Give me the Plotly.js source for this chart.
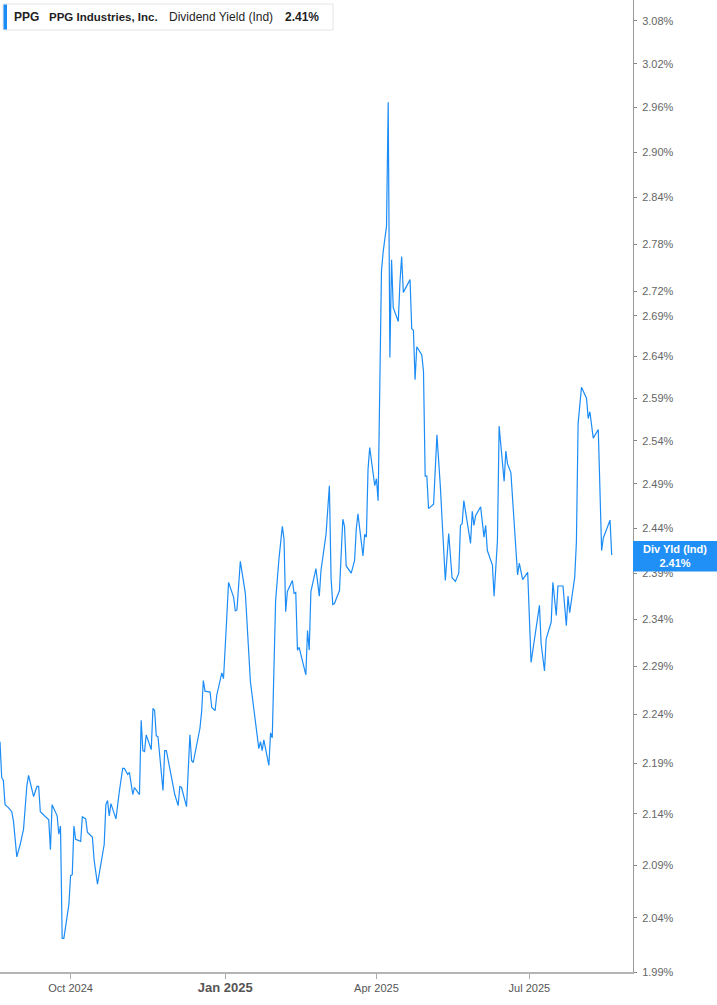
<!DOCTYPE html>
<html>
<head>
<meta charset="utf-8">
<script src="https://cdn.plot.ly/plotly-3.0.1.min.js"></script>
<style>
html,body{margin:0;padding:0;background:#fff;}
#chart{width:717px;height:1005px;}
</style>
</head>
<body>
<div id="chart"></div>
<script>
// ---- data ----
const dates = [
'2024-08-20','2024-08-21','2024-08-22','2024-08-23','2024-08-25','2024-08-27','2024-08-28','2024-08-30',
'2024-09-01','2024-09-03','2024-09-05','2024-09-06','2024-09-09','2024-09-11','2024-09-12','2024-09-13',
'2024-09-18','2024-09-19','2024-09-20','2024-09-23','2024-09-24','2024-09-25','2024-09-26','2024-09-27','2024-09-30',
'2024-10-01','2024-10-02','2024-10-03','2024-10-04','2024-10-07','2024-10-08','2024-10-10','2024-10-11','2024-10-14',
'2024-10-15','2024-10-17','2024-10-21','2024-10-22','2024-10-23','2024-10-24','2024-10-25','2024-10-28','2024-10-30',
'2024-11-01','2024-11-02','2024-11-04','2024-11-05','2024-11-07','2024-11-08','2024-11-11','2024-11-12','2024-11-13',
'2024-11-14','2024-11-15','2024-11-18','2024-11-19','2024-11-20','2024-11-21','2024-11-22','2024-11-25','2024-11-26','2024-11-27',
'2024-12-02','2024-12-04','2024-12-05','2024-12-06','2024-12-09','2024-12-11','2024-12-12','2024-12-13','2024-12-17',
'2024-12-18','2024-12-19','2024-12-20','2024-12-23','2024-12-24','2024-12-26','2024-12-27','2024-12-30','2024-12-31',
'2025-01-02','2025-01-03','2025-01-06','2025-01-07','2025-01-08','2025-01-10','2025-01-13','2025-01-16','2025-01-21',
'2025-01-22','2025-01-23','2025-01-24','2025-01-27','2025-01-28','2025-01-29','2025-01-31',
'2025-02-02','2025-02-04','2025-02-05','2025-02-06','2025-02-07','2025-02-10','2025-02-11','2025-02-12','2025-02-13',
'2025-02-14','2025-02-18','2025-02-19','2025-02-20','2025-02-21','2025-02-24','2025-02-26','2025-02-27',
'2025-03-02','2025-03-04','2025-03-05','2025-03-06','2025-03-07','2025-03-10','2025-03-11','2025-03-12','2025-03-13',
'2025-03-14','2025-03-17','2025-03-19','2025-03-20','2025-03-21','2025-03-24','2025-03-25','2025-03-26','2025-03-27',
'2025-03-28','2025-03-30','2025-03-31','2025-04-01','2025-04-02','2025-04-04','2025-04-05','2025-04-07','2025-04-08',
'2025-04-09','2025-04-10','2025-04-11','2025-04-14','2025-04-15','2025-04-16','2025-04-17','2025-04-21','2025-04-22',
'2025-04-23','2025-04-24','2025-04-25','2025-04-28','2025-04-29','2025-04-30',
'2025-05-01','2025-05-02','2025-05-05','2025-05-07','2025-05-09','2025-05-12','2025-05-14','2025-05-16','2025-05-18',
'2025-05-20','2025-05-21','2025-05-22','2025-05-23','2025-05-27','2025-05-28','2025-05-29','2025-05-30',
'2025-06-02','2025-06-04','2025-06-05','2025-06-06','2025-06-09','2025-06-10','2025-06-12','2025-06-13','2025-06-16',
'2025-06-17','2025-06-18','2025-06-20','2025-06-24','2025-06-25','2025-06-27','2025-06-30',
'2025-07-02','2025-07-07','2025-07-08','2025-07-10','2025-07-11','2025-07-14','2025-07-15','2025-07-17','2025-07-18',
'2025-07-21','2025-07-23','2025-07-24','2025-07-25','2025-07-28','2025-07-29','2025-07-30',
'2025-08-01','2025-08-04','2025-08-05','2025-08-06','2025-08-08','2025-08-11','2025-08-13','2025-08-14','2025-08-18','2025-08-19'
];
const dividendYield = [
2.212,2.176,2.173,2.149,2.146,2.142,2.133,2.098,
2.110,2.125,2.168,2.178,2.157,2.167,2.167,2.142,
2.134,2.105,2.149,2.138,2.120,2.128,2.021,2.021,2.053,
2.080,2.081,2.128,2.115,2.113,2.137,2.135,2.122,2.117,
2.095,2.072,2.110,2.149,2.153,2.138,2.150,2.135,2.162,
2.185,2.185,2.179,2.181,2.159,2.166,2.159,2.234,2.203,
2.202,2.219,2.204,2.246,2.244,2.218,2.217,2.163,2.203,2.203,
2.159,2.148,2.167,2.166,2.147,2.219,2.193,2.191,2.226,
2.243,2.275,2.264,2.263,2.247,2.244,2.260,2.283,2.277,
2.344,2.380,2.364,2.349,2.350,2.403,2.368,2.274,2.205,
2.212,2.203,2.214,2.188,2.221,2.216,2.360,
2.406,2.442,2.428,2.348,2.370,2.382,2.368,2.369,2.307,
2.310,2.281,2.328,2.307,2.370,2.395,2.365,2.393,
2.433,2.488,2.385,2.356,2.357,2.371,2.403,2.450,2.442,
2.398,2.390,2.404,2.439,2.456,2.409,2.433,2.430,2.507,
2.532,2.504,2.488,2.496,2.471,2.746,2.770,2.803,2.967,
2.639,2.760,2.700,2.683,2.732,2.764,2.719,2.735,2.674,
2.672,2.612,2.652,2.642,2.622,2.499,
2.499,2.462,2.467,2.547,2.488,2.382,2.434,2.385,2.381,
2.390,2.443,2.445,2.471,2.423,2.459,2.443,2.454,
2.464,2.430,2.443,2.415,2.399,2.365,2.426,2.557,2.493,
2.528,2.513,2.503,2.388,2.401,2.383,2.391,
2.294,2.355,2.314,2.285,2.319,2.337,2.380,2.344,2.376,
2.376,2.333,2.365,2.347,2.386,2.425,2.560,
2.603,2.590,2.566,2.574,2.543,2.553,2.415,2.429,2.449,2.410
];
const yTickVals = [1.99,2.04,2.09,2.14,2.19,2.24,2.29,2.34,2.39,2.44,2.49,2.54,2.59,2.64,2.69,2.72,2.78,2.84,2.90,2.96,3.02,3.08];
const xTickVals = ['2024-10-01','2025-01-01','2025-04-01','2025-07-01'];
const xTickLabels = ['Oct 2024','Jan 2025','Apr 2025','Jul 2025'];
const ticker = 'PPG';
const company = 'PPG Industries, Inc.';
const metric = 'Dividend Yield (Ind)';
const shortMetric = 'Div Yld (Ind)';
const lastValue = dividendYield[dividendYield.length - 1];

// ---- layout helpers (pixel -> paper) ----
const W = 717, H = 1005, ML = 0, MR = 84, MT = 0, MB = 33;
const PW = W - ML - MR, PH = H - MT - MB;
const px = x => (x - ML) / PW;
const py = y => 1 - (y - MT) / PH;

const lineColor = '#1c8cf6';
const lastText = lastValue.toFixed(2) + '%';

const trace = {
  x: dates, y: dividendYield, type: 'scatter', mode: 'lines',
  line: {color: lineColor, width: 1.2}, hoverinfo: 'skip'
};

const layout = {
  width: W, height: H,
  margin: {l: ML, r: MR, t: MT, b: MB, pad: 0},
  paper_bgcolor: '#ffffff', plot_bgcolor: '#ffffff',
  showlegend: false, hovermode: false,
  font: {family: 'Arial, "Liberation Sans", sans-serif', color: '#555'},
  xaxis: {
    type: 'date',
    range: ['2024-08-20', '2025-08-31 16:00'],
    showgrid: false, zeroline: false,
    showline: true, linecolor: '#b4b4b4', linewidth: 2,
    ticks: 'outside', ticklen: 5, tickcolor: '#aaaaaa', tickwidth: 1,
    tickvals: xTickVals,
    ticktext: xTickLabels.map(t => t === 'Jan 2025' ? '<b><span style="font-size:13px">' + t + '</span></b>' : t),
    tickfont: {size: 11, color: '#555'},
    fixedrange: true
  },
  yaxis: {
    type: 'log', side: 'right',
    range: [Math.log10(1.99), Math.log10(3.1098)],
    showgrid: false, zeroline: false,
    showline: true, linecolor: '#999999', linewidth: 1,
    ticks: 'outside', ticklen: 3, tickcolor: '#888', tickwidth: 1,
    tickvals: yTickVals,
    ticktext: yTickVals.map(v => v.toFixed(2) + '%'),
    tickfont: {size: 11, color: '#666'},
    ticklabelstandoff: 3,
    fixedrange: true
  },
  shapes: [
    {type: 'rect', xref: 'paper', yref: 'paper', x0: px(3), x1: px(333), y0: py(30), y1: py(4),
     fillcolor: '#ffffff', line: {color: '#e4e4e4', width: 1}, layer: 'above'},
    {type: 'rect', xref: 'paper', yref: 'paper', x0: px(3.5), x1: px(7), y0: py(29.5), y1: py(4.5),
     fillcolor: lineColor, line: {width: 0}, layer: 'above'},
    {type: 'rect', xref: 'paper', yref: 'paper', x0: px(633), x1: px(717), y0: py(571.5), y1: py(541),
     fillcolor: '#2090f7', line: {width: 0}, layer: 'above'}
  ],
  annotations: [
    {xref: 'paper', yref: 'paper', x: px(12), y: py(17), xanchor: 'left', yanchor: 'middle', showarrow: false,
     text: '<b>' + ticker + '</b>', font: {size: 12, color: '#1f1f1f'}},
    {xref: 'paper', yref: 'paper', x: px(46.5), y: py(17), xanchor: 'left', yanchor: 'middle', showarrow: false,
     text: '<b>' + company + '</b>', font: {size: 11.5, color: '#1f1f1f'}},
    {xref: 'paper', yref: 'paper', x: px(166.5), y: py(17), xanchor: 'left', yanchor: 'middle', showarrow: false,
     text: metric, font: {size: 12, color: '#1f1f1f'}},
    {xref: 'paper', yref: 'paper', x: px(283), y: py(17), xanchor: 'left', yanchor: 'middle', showarrow: false,
     text: '<b>' + lastText + '</b>', font: {size: 12, color: '#1f1f1f'}},
    {xref: 'paper', yref: 'paper', x: px(675), y: py(555.5), xanchor: 'center', yanchor: 'middle', showarrow: false,
     borderpad: 0, text: '<b>' + shortMetric + '</b><br><b>' + lastText + '</b>', font: {size: 11, color: '#ffffff'}}
  ]
};

Plotly.newPlot('chart', [trace], layout, {displayModeBar: false, staticPlot: true});
</script>
</body>
</html>
